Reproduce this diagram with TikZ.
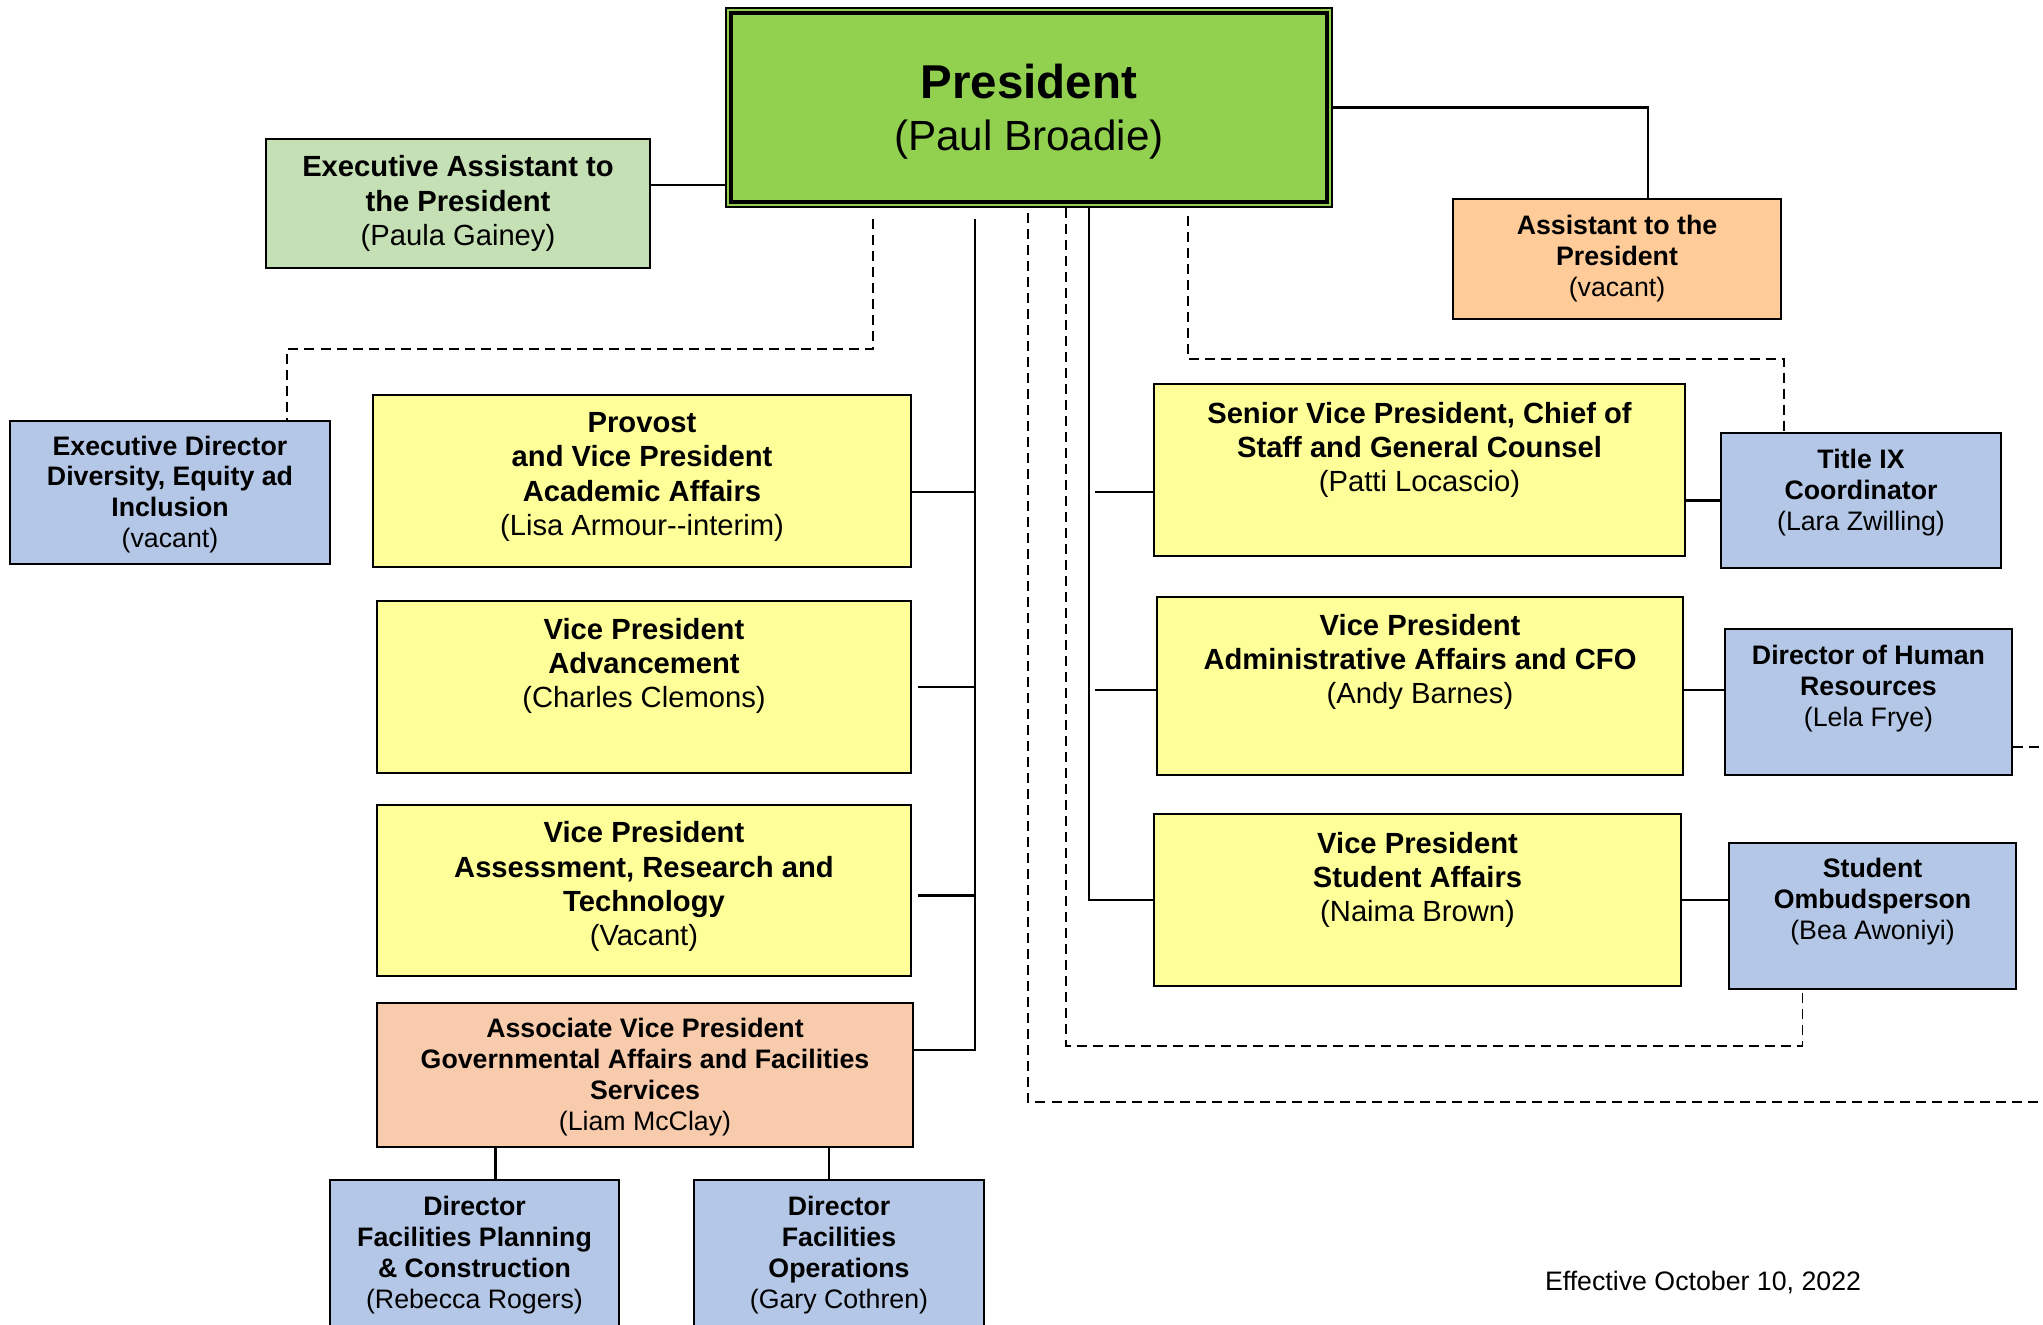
\documentclass[tikz,border=0pt]{standalone}
\usepackage{fontspec}
\setmainfont{Liberation Sans}
\usepackage{tikz}

\definecolor{presgreen}{HTML}{92D050}
\definecolor{asstgreen}{HTML}{C5E0B4}
\definecolor{vpyellow}{HTML}{FFFF99}
\definecolor{dirblue}{HTML}{B4C7E7}
\definecolor{asstpeach}{HTML}{FFCC99}
\definecolor{avppeach}{HTML}{F8CBAD}

\begin{document}
\begin{tikzpicture}[x=0.01cm,y=-0.01cm,
        box/.style={draw,line width=0.7pt,inner sep=0pt},
        vp/.style={box,fill=vpyellow},
        dir/.style={box,fill=dirblue},
        big/.style={align=center,inner sep=0pt,font=\fontsize{8.3}{9.7}\selectfont},
        small/.style={align=center,inner sep=0pt,font=\fontsize{7.6}{8.8}\selectfont},
        link/.style={line width=0.6pt},
        dashlink/.style={line width=0.5pt,dash pattern=on 0.1cm off 0.06cm}]
		\clip (0,0) rectangle (2043,1324);
		\node [box,fill=presgreen,line width=0.5pt,minimum width=6.06cm,minimum height=1.99cm,label={[align=center,inner sep=0pt,yshift=-0.04cm,font=\fontsize{12}{14.8}\selectfont]center:{{\fontsize{13.5}{14.8}\selectfont\bfseries President}\\(Paul Broadie)}}] (pres) at (1029,107.5) {};
		\draw [line width=1.3pt] ([shift={(0.06cm,-0.06cm)}]pres.north west) rectangle ([shift={(-0.06cm,0.06cm)}]pres.south east);
		\node [box,big,fill=asstgreen,minimum width=3.84cm,minimum height=1.29cm] (ea) at (458,203.5) {\textbf{Executive Assistant to}\\\textbf{the President}\\(Paula Gainey)};
		\node [box,small,fill=asstpeach,minimum width=3.28cm,minimum height=1.20cm] (apres) at (1617,259) {\textbf{Assistant to the}\\\textbf{President}\\(vacant)};
		\node [dir,minimum width=3.20cm,minimum height=1.43cm,label={[small,yshift=-0.02cm]center:{\textbf{Executive Director}\\\textbf{Diversity, Equity ad}\\\textbf{Inclusion}\\(vacant)}}] (dei) at (170,492.5) {};
		\node [vp,minimum width=5.38cm,minimum height=1.72cm,label={[big,yshift=0.04cm]center:{\textbf{Provost}\\\textbf{and Vice President}\\\textbf{Academic Affairs}\\(Lisa Armour-{}-interim)}}] (prov) at (642,481) {};
		\node [vp,minimum width=5.34cm,minimum height=1.72cm,label={[big,yshift=0.21cm]center:{\textbf{Vice President}\\\textbf{Advancement}\\(Charles Clemons)}}] (adv) at (644,687) {};
		\node [vp,minimum width=5.34cm,minimum height=1.71cm,label={[big,yshift=0.04cm]center:{\textbf{Vice President}\\\textbf{Assessment, Research and}\\\textbf{Technology}\\(Vacant)}}] (assess) at (644,890.5) {};
		\node [box,fill=avppeach,minimum width=5.36cm,minimum height=1.44cm,label={[small,yshift=-0.02cm]center:{\textbf{Associate Vice President}\\\textbf{Governmental Affairs and Facilities}\\\textbf{Services}\\(Liam McClay)}}] (avp) at (645,1075) {};
		\node [dir,minimum width=2.89cm,minimum height=1.80cm,label={[small,yshift=0.15cm]center:{\textbf{Director}\\\textbf{Facilities Planning}\\\textbf{\& Construction}\\(Rebecca Rogers)}}] (fpc) at (474.5,1270) {};
		\node [dir,minimum width=2.90cm,minimum height=1.80cm,label={[small,yshift=0.15cm]center:{\textbf{Director}\\\textbf{Facilities}\\\textbf{Operations}\\(Gary Cothren)}}] (fops) at (839,1270) {};
		\node [vp,minimum width=5.31cm,minimum height=1.72cm,label={[big,yshift=0.20cm]center:{\textbf{Senior Vice President, Chief of}\\\textbf{Staff and General Counsel}\\(Patti Locascio)}}] (svp) at (1419.5,470) {};
		\node [vp,minimum width=5.26cm,minimum height=1.78cm,label={[big,yshift=0.24cm]center:{\textbf{Vice President}\\\textbf{Administrative Affairs and CFO}\\(Andy Barnes)}}] (vpaa) at (1420,686) {};
		\node [vp,minimum width=5.27cm,minimum height=1.72cm,label={[big,yshift=0.20cm]center:{\textbf{Vice President}\\\textbf{Student Affairs}\\(Naima Brown)}}] (vpsa) at (1417.5,900) {};
		\node [dir,minimum width=2.80cm,minimum height=1.35cm,label={[small,yshift=0.08cm]center:{\textbf{Title IX}\\\textbf{Coordinator}\\(Lara Zwilling)}}] (tix) at (1861,500.5) {};
		\node [dir,minimum width=2.87cm,minimum height=1.46cm,label={[small,yshift=0.13cm]center:{\textbf{Director of Human}\\\textbf{Resources}\\(Lela Frye)}}] (hr) at (1868.5,702) {};
		\node [dir,minimum width=2.87cm,minimum height=1.46cm,label={[small,yshift=0.14cm]center:{\textbf{Student}\\\textbf{Ombudsperson}\\(Bea Awoniyi)}}] (ombuds) at (1872.5,916) {};
		\node [small] (eff) at (1703,1283) {Effective October 10, 2022};
		\coordinate (ltrunk) at ([xshift=-0.54cm]pres.south);
		\coordinate (rtrunk) at ([xshift=0.60cm]pres.south);
		\coordinate (edge) at (2060,1102);
		\draw [link] ([yshift=0.185cm]ea.east) -- ([yshift=0.185cm]ea.east -| pres.west);
		\draw [link] (pres.east) -| ([xshift=0.31cm]apres.north);
		\draw [link,shorten <=0.11cm] (ltrunk) |- ([yshift=0.25cm]avp.east);
		\draw [link] ([yshift=-0.11cm]prov.east) -- ([yshift=-0.11cm]prov.east -| ltrunk);
		\draw [link,shorten <=0.06cm] (adv.east) -- (adv.east -| ltrunk);
		\draw [link,shorten <=0.06cm] ([yshift=-0.05cm]assess.east) -- ([yshift=-0.05cm]assess.east -| ltrunk);
		\draw [link] (rtrunk) |- (vpsa.west);
		\draw [link,shorten >=0.06cm] ([yshift=-0.22cm]svp.west) -- ([yshift=-0.22cm]svp.west -| rtrunk);
		\draw [link,shorten >=0.06cm] ([yshift=-0.04cm]vpaa.west) -- ([yshift=-0.04cm]vpaa.west -| rtrunk);
		\draw [link] (tix.west) -- (tix.west -| svp.east);
		\draw [link] ([yshift=-0.04cm]vpaa.east) -- ([yshift=-0.04cm]vpaa.east -| hr.west);
		\draw [link] (vpsa.east) -- (vpsa.east -| ombuds.west);
		\draw [link] ([xshift=0.21cm]fpc.north) -- ([xshift=0.21cm]fpc.north |- avp.south);
		\draw [link] ([xshift=-0.10cm]fops.north) -- ([xshift=-0.10cm]fops.north |- avp.south);
		\draw [dashlink,shorten <=0.11cm] ([xshift=-1.56cm]pres.south) -- ++(0,141) -| ([xshift=1.17cm]dei.north);
		\draw [dashlink,shorten <=0.05cm] ([xshift=-0.01cm]pres.south) |- (edge);
		\draw [dashlink] ([xshift=0.37cm]pres.south) -- ++(0,838) -| ([xshift=-0.70cm]ombuds.south);
		\draw [dashlink,shorten <=0.08cm] ([xshift=1.59cm]pres.south) -- ++(0,151) -| ([xshift=-0.77cm]tix.north);
		\draw [dashlink] ([yshift=-0.45cm]hr.east) -- ([yshift=-0.45cm]hr.east -| edge);
\end{tikzpicture}
\end{document}
